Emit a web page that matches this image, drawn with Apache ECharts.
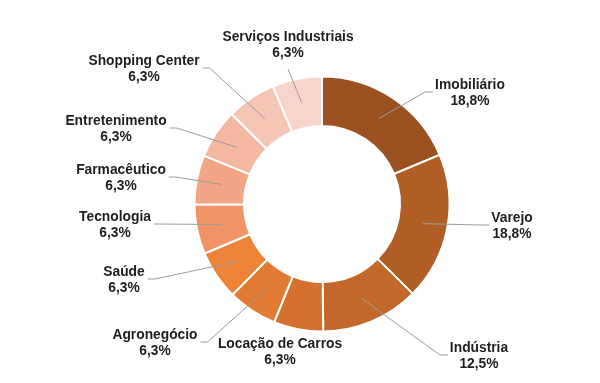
<!DOCTYPE html>
<html>
<head>
<meta charset="utf-8">
<style>
html,body{margin:0;padding:0;background:#fff;}
#chart{width:600px;height:383px;}
</style>
<script src="https://cdn.jsdelivr.net/npm/echarts@6/dist/echarts.min.js"></script>
</head>
<body>
<div id="chart"></div>
<script>
// Data
const categories = ['Imobiliário','Varejo','Indústria','Locação de Carros','Agronegócio','Saúde','Tecnologia','Farmacêutico','Entretenimento','Shopping Center','Serviços Industriais'];
const shares = [18.8, 18.8, 12.5, 6.3, 6.3, 6.3, 6.3, 6.3, 6.3, 6.3, 6.3];

// Styles / layout
const colors = ['#9c5220','#b05e25','#c2682b','#d4712f','#e27a33','#ee8236','#f09468','#f2a686','#f4b8a1','#f5c6b6','#f7d5cb'];
const CX = 322, CY = 204, R_IN = 78, R_OUT = 127.5;
// label block centres, offset from the donut centre
const labelOffsets = [[148,-111],[190,22],[157,152],[-42,148],[-167,139],[-198,76],[-207,21],[-201,-26],[-206,-75],[-178,-135],[-34,-159]];
const noLeaderLine = ['Locação de Carros'];

const chart = echarts.init(document.getElementById('chart'), null, {renderer:'canvas'});
const fmt = v => v.toFixed(1).replace('.', ',') + '%';
const pieData = categories.map((c, i) => ({ name: c, value: shares[i] }));
const txt = { align: 'center', fontFamily: 'Liberation Sans, Arial, sans-serif', fontWeight: 'bold', fontSize: 13.8, color: '#1e1e1e', lineHeight: 16 };

chart.setOption({
  animation: false,
  backgroundColor: '#ffffff',
  series: [{
    type: 'pie',
    z: 2,
    center: [CX, CY],
    radius: [R_IN, R_OUT],
    startAngle: 90,
    clockwise: true,
    color: colors,
    itemStyle: { borderColor: '#ffffff', borderWidth: 2 },
    label: { show: false },
    labelLine: { show: false },
    emphasis: { disabled: true },
    data: pieData
  }, {
    type: 'pie',
    z: 5,
    silent: true,
    center: [CX, CY],
    radius: [R_IN, R_OUT],
    startAngle: 90,
    clockwise: true,
    avoidLabelOverlap: false,
    itemStyle: { color: 'rgba(0,0,0,0)', borderWidth: 0 },
    emphasis: { disabled: true },
    label: {
      show: true,
      position: 'outside',
      formatter: p => '{n|' + p.name + '}\n{v|' + fmt(p.value) + '}',
      rich: { n: txt, v: txt }
    },
    labelLine: { show: true, length: 5, length2: 5, lineStyle: { color: '#9d9d9d', width: 1 } },
    labelLayout: function (p) {
      const i = p.dataIndex;
      const off = labelOffsets[i];
      const x = CX + off[0], y = CY + off[1];
      const w = p.labelRect.width, h = p.labelRect.height;
      const p0 = p.labelLinePoints ? p.labelLinePoints[0] : [CX, CY];
      const k = ((R_IN + R_OUT) / 2) / R_OUT;
      const start = [CX + (p0[0] - CX) * k, CY + (p0[1] - CY) * k];
      let end, bend;
      if (Math.abs(off[0]) < 80) {
        end = off[1] < 0 ? [x, y + h / 2 + 9] : [x, y - h / 2];
        bend = end;
      } else if (off[0] > 0) {
        end = [x - w / 2 - 2, y - 1];
        bend = [end[0] - 8, end[1]];
      } else {
        end = [x + w / 2 + 3, y - 1];
        bend = [end[0] + 7, end[1]];
      }
      let pts = [start, bend, end];
      if (noLeaderLine.indexOf(categories[i]) >= 0) pts = [start, start, start];
      return { x: x, y: y, align: 'center', verticalAlign: 'middle', labelLinePoints: pts };
    },
    data: pieData
  }]
});
</script>
</body>
</html>
